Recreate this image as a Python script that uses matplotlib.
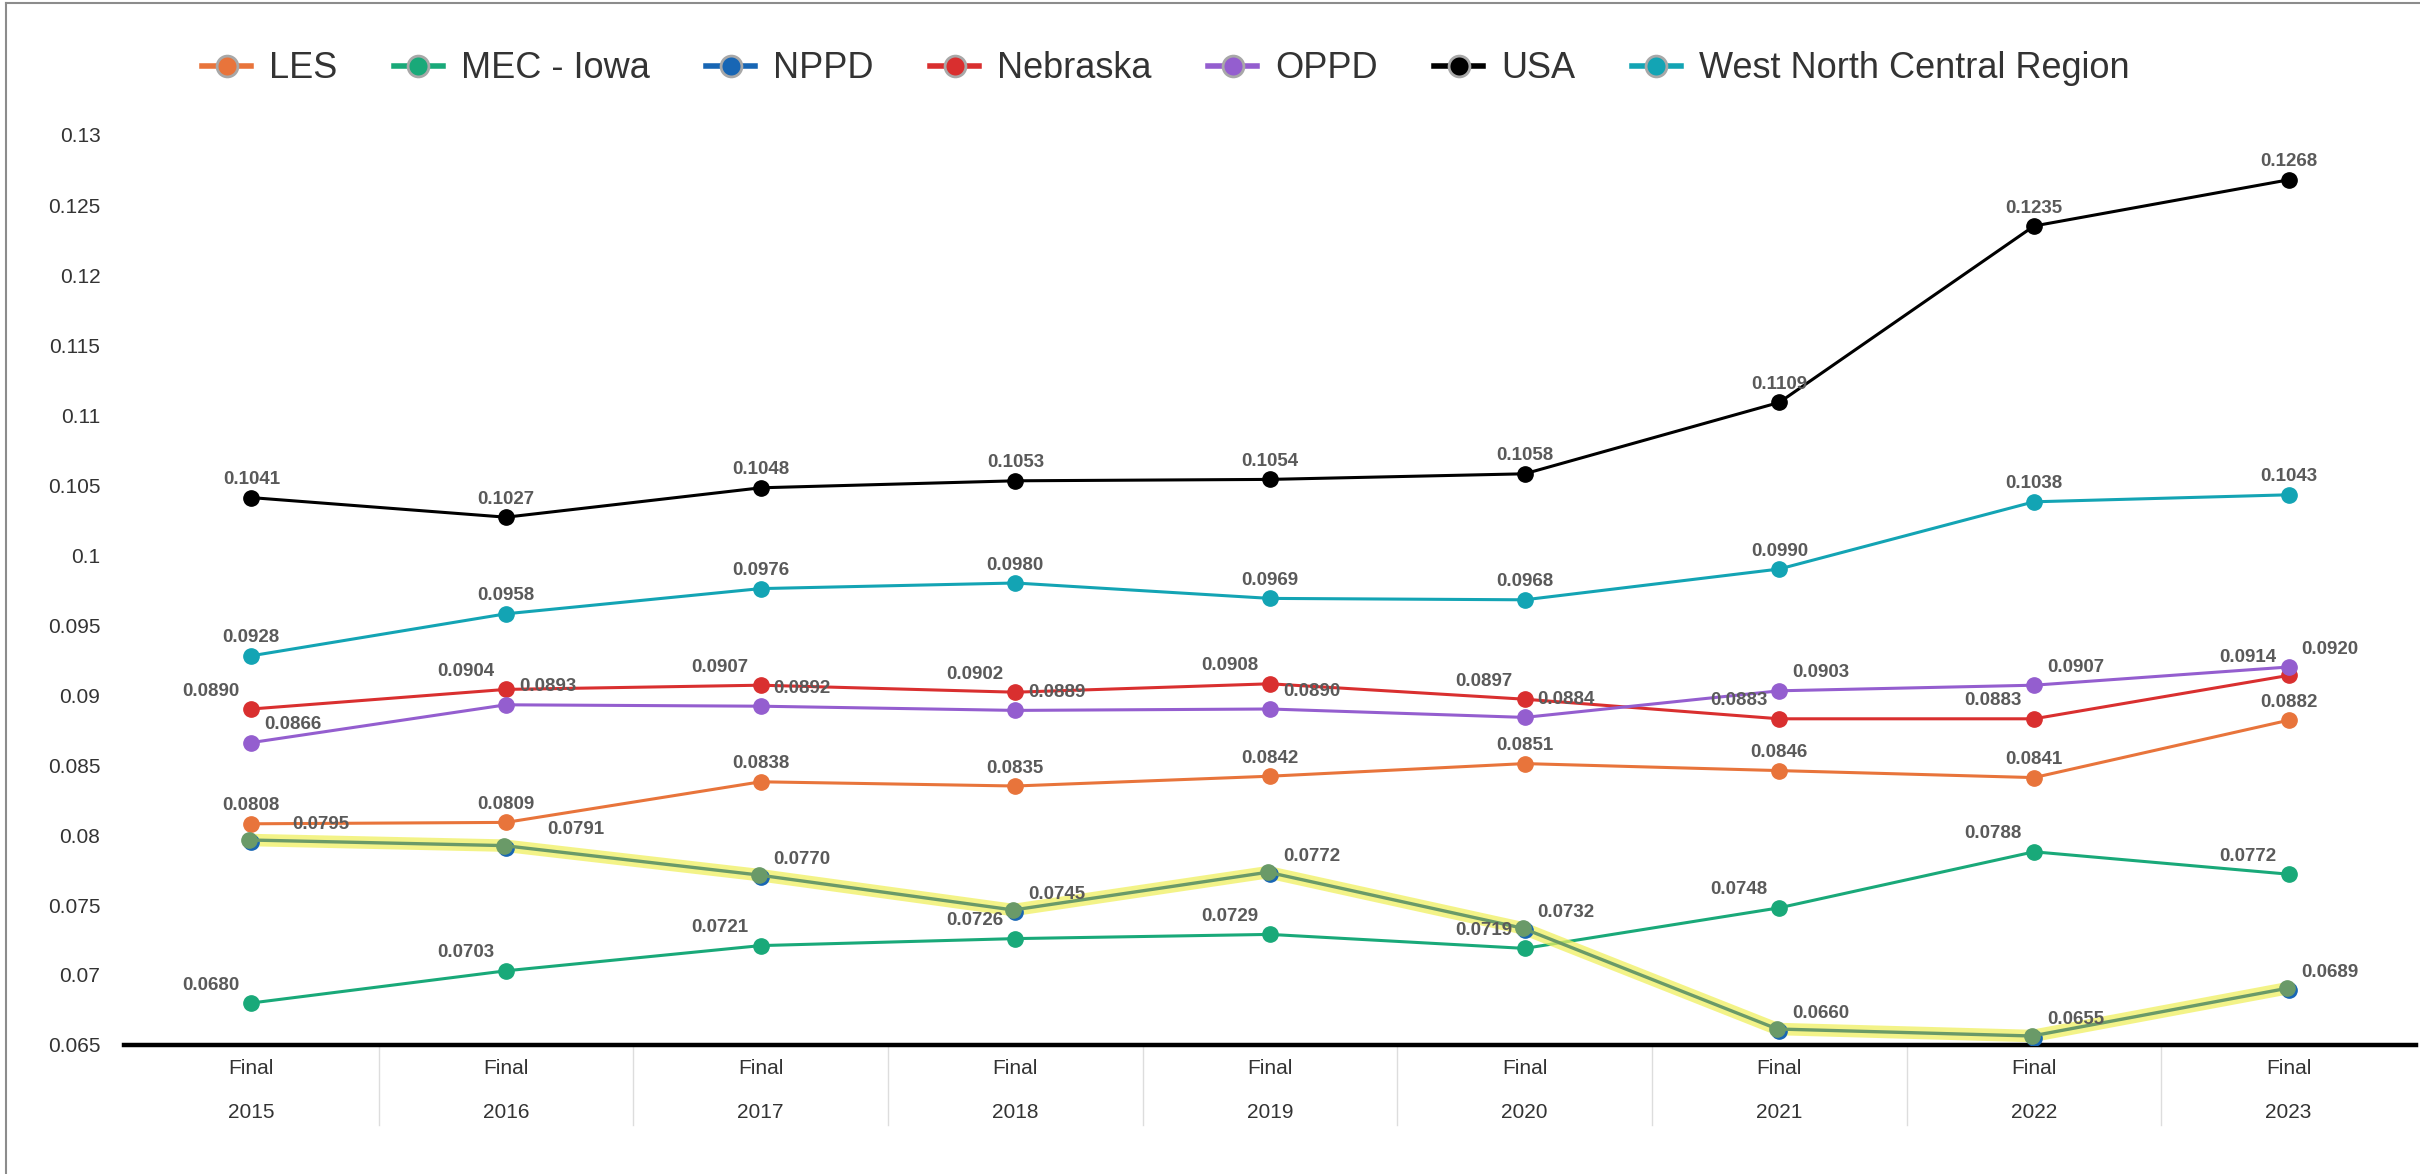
import numpy as np
import matplotlib
matplotlib.use("Agg")
from matplotlib import pyplot as plt
from matplotlib.lines import Line2D
from matplotlib import transforms

plt.rcParams["font.family"] = ["Liberation Sans", "DejaVu Sans"]

# data (rate per year)
years = ["2015", "2016", "2017", "2018", "2019", "2020", "2021", "2022", "2023"]
status = "Final"
series_names = ["LES", "MEC - Iowa", "NPPD", "Nebraska", "OPPD", "USA",
                "West North Central Region"]
les = [0.0808, 0.0809, 0.0838, 0.0835, 0.0842, 0.0851, 0.0846, 0.0841, 0.0882]
mec_iowa = [0.0680, 0.0703, 0.0721, 0.0726, 0.0729, 0.0719, 0.0748, 0.0788, 0.0772]
nppd = [0.0795, 0.0791, 0.0770, 0.0745, 0.0772, 0.0732, 0.0660, 0.0655, 0.0689]
nebraska = [0.0890, 0.0904, 0.0907, 0.0902, 0.0908, 0.0897, 0.0883, 0.0883, 0.0914]
oppd = [0.0866, 0.0893, 0.0892, 0.0889, 0.0890, 0.0884, 0.0903, 0.0907, 0.0920]
usa = [0.1041, 0.1027, 0.1048, 0.1053, 0.1054, 0.1058, 0.1109, 0.1235, 0.1268]
wnc = [0.0928, 0.0958, 0.0976, 0.0980, 0.0969, 0.0968, 0.0990, 0.1038, 0.1043]


def main():
    W, H = 2420, 1174
    fig = plt.figure(figsize=(W / 100, H / 100), dpi=100)
    ax = fig.add_axes([124 / W, 1 - 1045 / H, 2292 / W, 910 / H])

    all_series = [les, mec_iowa, nppd, nebraska, oppd, usa, wnc]
    colors = ["#e8743b", "#19a979", "#1866b4", "#d92f2f", "#945ecf", "#000000", "#13a4b4"]
    # where the value label sits: c = above, l = upper left, r = upper right
    lab_pos = ["c", "l", "r", "l", "r", "c", "c"]

    x = np.arange(len(years))
    shift = transforms.offset_copy(ax.transData, fig=fig, x=-2, y=2, units="dots")
    for name, vals, c in zip(series_names, all_series, colors):
        if name == "NPPD":
            # selected series: yellow glow + olive line above the blue markers
            ax.plot(x, vals, color="#f0f060", lw=9, alpha=0.75, transform=shift,
                    solid_capstyle="round", zorder=5)
            ax.plot(x, vals, "o", color=c, ms=11, zorder=6)
            ax.plot(x, vals, "-o", color="#6a9a68", lw=2.4, ms=11,
                    transform=shift, zorder=7)
        else:
            ax.plot(x, vals, "-o", color=c, lw=2.2, ms=11, zorder=3)

    for name, vals, pos in zip(series_names, all_series, lab_pos):
        for i, v in enumerate(vals):
            if pos == "c":
                dx, ha = 0, "center"
            elif pos == "l":
                dx, ha = -12, "right"
            else:
                dx, ha = 13, "left"
                if name == "NPPD" and i < 2:
                    dx = 41
            ax.annotate(f"{v:.4f}", (i, v), xytext=(dx, 18), textcoords="offset pixels",
                        ha=ha, va="center", fontsize=13.5, fontweight="bold",
                        color="#5a5a5a", zorder=10)

    ax.set_xlim(-0.5, len(years) - 0.5)
    ax.set_ylim(0.065, 0.13)
    yt = np.arange(0.065, 0.13001, 0.005)
    ax.set_yticks(yt, [f"{t:.3f}".rstrip("0").rstrip(".") for t in yt])
    ax.set_xticks(x, [status] * len(years))
    ax.tick_params(axis="y", length=0, pad=17, labelsize=15, labelcolor="#333333")
    ax.tick_params(axis="x", length=0, pad=10, labelsize=15, labelcolor="#333333")
    for i, yr in enumerate(years):
        ax.annotate(yr, (i, 0), xycoords=("data", "axes fraction"), xytext=(0, -68),
                    textcoords="offset pixels", ha="center", va="center",
                    fontsize=15, color="#333333")
    for b in x[:-1] + 0.5:
        ax.plot([b, b], [0, -80 / 910], transform=ax.get_xaxis_transform(),
                color="#dddddd", lw=1, clip_on=False)

    for s in ["left", "top", "right"]:
        ax.spines[s].set_visible(False)
    ax.spines["bottom"].set_linewidth(3.2)
    ax.spines["bottom"].set_color("black")

    handles = [Line2D([], [], color=c, lw=4, marker="o", ms=15, mec="#a8a8a8", mew=2)
               for c in colors]
    leg = fig.legend(handles, series_names, loc="center left",
                     bbox_to_anchor=(202 / W, 1 - 69 / H), ncol=7, frameon=False,
                     fontsize=26, handlelength=1.36, handletextpad=0.49,
                     columnspacing=1.57, borderpad=0, borderaxespad=0)
    for t in leg.get_texts():
        t.set_color("#333333")

    # outer frame (left and top edges show)
    fig.add_artist(Line2D([6 / W, 6 / W], [0, 1 - 3 / H], color="#8c8c8c", lw=1.5))
    fig.add_artist(Line2D([6 / W, 1], [1 - 3 / H, 1 - 3 / H], color="#8c8c8c", lw=1.5))

    fig.savefig("out.png", dpi=100, facecolor="white")


if __name__ == '__main__':
    main()
